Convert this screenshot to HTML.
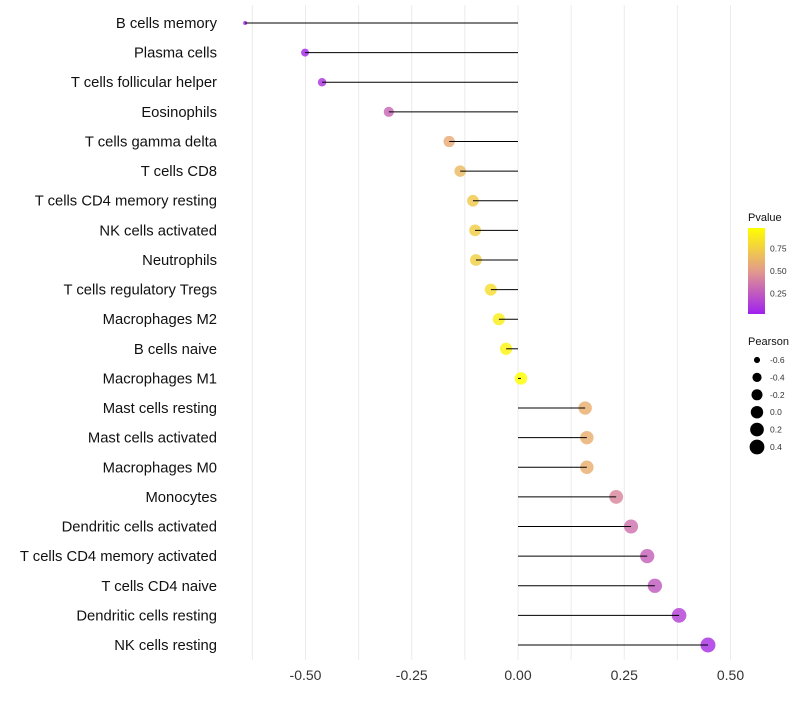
<!DOCTYPE html>
<html><head><meta charset="utf-8"><style>
body{margin:0;background:#fff;font-family:"Liberation Sans",sans-serif}
</style></head><body>
<svg id="chart" width="800" height="700" xmlns="http://www.w3.org/2000/svg" font-family="Liberation Sans, sans-serif">
<defs><linearGradient id="pg" x1="0" y1="1" x2="0" y2="0">
<stop offset="0" stop-color="#a020f0"/><stop offset="0.5" stop-color="#e39a8c"/><stop offset="1" stop-color="#ffff00"/></linearGradient></defs>
<g id="grid"></g><g id="dots"></g><g id="marks"></g><g id="labels"></g><g id="legend"></g>
</svg>
<script>
const categories=["B cells memory","Plasma cells","T cells follicular helper","Eosinophils","T cells gamma delta","T cells CD8","T cells CD4 memory resting","NK cells activated","Neutrophils","T cells regulatory  Tregs ","Macrophages M2","B cells naive","Macrophages M1","Mast cells resting","Mast cells activated","Macrophages M0","Monocytes","Dendritic cells activated","T cells CD4 memory activated","T cells CD4 naive","Dendritic cells resting","NK cells resting"];
const pearson=[-0.642,-0.501,-0.461,-0.304,-0.162,-0.136,-0.106,-0.101,-0.099,-0.064,-0.045,-0.028,0.007,0.158,0.162,0.162,0.231,0.266,0.304,0.322,0.379,0.447];
const pvalue=[0.02,0.05,0.1,0.3,0.58,0.65,0.72,0.74,0.75,0.82,0.9,0.93,0.98,0.6,0.6,0.6,0.42,0.34,0.28,0.25,0.15,0.08];
const xTicks=[-0.5,-0.25,0,0.25,0.5];
const xTickLabels=["-0.50","-0.25","0.00","0.25","0.50"];
const sizeLegend=[-0.6,-0.4,-0.2,0.0,0.2,0.4];
const sizeLegendLabels=["-0.6","-0.4","-0.2","0.0","0.2","0.4"];
const pLegend=[0.75,0.5,0.25];
const NS="http://www.w3.org/2000/svg";
const x=v=>518+v*425;
const y=i=>23+i*(645-23)/21;
const r=v=>2+5.5*Math.sqrt(Math.max(0,(v+0.642)/1.089));
function lerp(a,b,t){return a.map((c,i)=>Math.round(c+(b[i]-c)*t));}
function col(p){const s=[[160,32,240],[227,154,140],[255,255,0]];const t=Math.max(0,Math.min(1,(p-0.02)/0.96));
const c=t<0.5?lerp(s[0],s[1],t*2):lerp(s[1],s[2],(t-0.5)*2);return `rgb(${c})`;}
function mk(tag,at,parent){const e=document.createElementNS(NS,tag);for(const k in at)e.setAttribute(k,at[k]);parent.appendChild(e);return e;}
const grid=document.getElementById('grid'),dots=document.getElementById('dots'),marks=document.getElementById('marks'),labels=document.getElementById('labels'),legend=document.getElementById('legend');
for(let k=-0.625;k<=0.51;k+=0.125){const g=mk('line',{x1:x(k),x2:x(k),y1:5,y2:660,stroke:'#ebebeb','stroke-width':1},grid);
}
xTicks.forEach((t,i)=>{const e=mk('text',{x:x(t),y:680,'text-anchor':'middle','font-size':14,fill:'#333'},labels);e.textContent=xTickLabels[i];
});
categories.forEach((c,i)=>{
const t=mk('text',{x:217,y:y(i)+5,'text-anchor':'end','font-size':14.8,fill:'#111'},labels);t.textContent=c;

const l=mk('line',{x1:x(0),x2:x(pearson[i]),y1:y(i),y2:y(i),stroke:'#000','stroke-width':1},marks);

const d=mk('circle',{cx:x(pearson[i]),cy:y(i),r:r(pearson[i]),fill:col(pvalue[i]),'fill-opacity':0.82},dots);

});
let e=mk('text',{x:748,y:221,'font-size':11,fill:'#111'},legend);e.textContent="Pvalue";

e=mk('rect',{x:748,y:228,width:17,height:86,fill:'url(#pg)'},legend);

pLegend.forEach((p,i)=>{const yy=314-(p-0.02)/0.96*86;
const t=mk('text',{x:770,y:yy+3,'font-size':8.5,fill:'#333'},legend);t.textContent=p.toFixed(2);
});
e=mk('text',{x:748,y:345,'font-size':11,fill:'#111'},legend);e.textContent="Pearson";

sizeLegend.forEach((s,i)=>{const yy=360+i*17.4;
const c=mk('circle',{cx:757,cy:yy,r:r(s),fill:'#000'},legend);

const t=mk('text',{x:770,y:yy+3,'font-size':8.5,fill:'#333'},legend);t.textContent=sizeLegendLabels[i];
});
</script>
</body></html>
